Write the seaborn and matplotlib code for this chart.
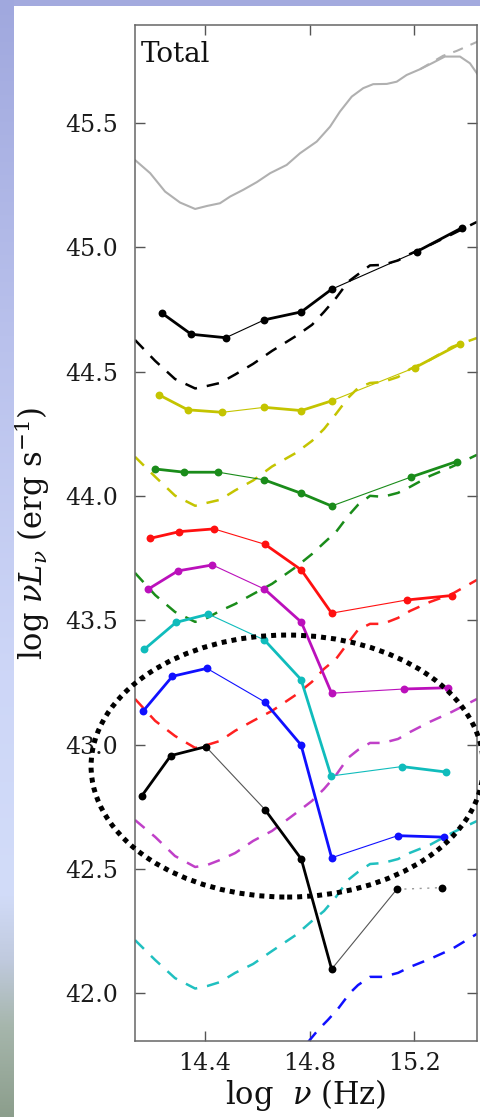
import matplotlib
matplotlib.use("Agg")
import numpy as np
import matplotlib.pyplot as plt
import seaborn as sns
from matplotlib.patches import Ellipse

# ---------------- data: log nu (Hz) vs log nuL_nu (erg/s) ----------------
# composite "Total" spectrum
total_x = [14.132, 14.190, 14.247, 14.304, 14.362, 14.407, 14.457, 14.496, 14.546,
           14.598, 14.649, 14.712, 14.763, 14.827, 14.878, 14.916, 14.961, 15.005,
           15.043, 15.095, 15.133, 15.171, 15.222, 15.273, 15.317, 15.375, 15.413, 15.444]
total_y = [45.352, 45.299, 45.225, 45.181, 45.155, 45.167, 45.178, 45.205, 45.232,
           45.263, 45.299, 45.332, 45.379, 45.426, 45.486, 45.547, 45.607, 45.641,
           45.657, 45.658, 45.667, 45.694, 45.717, 45.744, 45.768, 45.768, 45.741, 45.694]
total_model_x = [15.222, 15.310, 15.363, 15.444]
total_model_y = [45.717, 45.771, 45.791, 45.829]

# model curves (dashed), sampled on a common frequency grid
model_x = [14.132, 14.209, 14.285, 14.362, 14.408, 14.457, 14.515, 14.584, 14.656,
           14.748, 14.809, 14.855, 14.901, 14.947, 14.985, 15.031, 15.080, 15.138,
           15.184, 15.260, 15.344, 15.440]
model_black = [44.628, 44.544, 44.471, 44.433, 44.443, 44.455, 44.489, 44.532, 44.584,
               44.644, 44.689, 44.741, 44.797, 44.862, 44.892, 44.928, 44.930, 44.948,
               44.974, 45.010, 45.053, 45.103]
model_yellow = [44.158, 44.078, 44.002, 43.961, 43.973, 43.985, 44.023, 44.063, 44.119,
                44.174, 44.222, 44.270, 44.331, 44.395, 44.435, 44.455, 44.459, 44.479,
                44.511, 44.548, 44.600, 44.636]
model_green = [43.691, 43.602, 43.534, 43.494, 43.510, 43.538, 43.566, 43.606, 43.647,
               43.715, 43.767, 43.812, 43.856, 43.920, 43.965, 44.001, 43.997, 44.013,
               44.037, 44.081, 44.118, 44.166]
model_red = [43.184, 43.096, 43.035, 42.987, 42.999, 43.015, 43.056, 43.096, 43.136,
             43.201, 43.253, 43.305, 43.345, 43.410, 43.462, 43.486, 43.486, 43.510,
             43.538, 43.574, 43.606, 43.663]
model_magenta = [42.697, 42.629, 42.552, 42.508, 42.516, 42.536, 42.564, 42.613, 42.653,
                 42.725, 42.774, 42.822, 42.878, 42.947, 42.979, 43.007, 43.007, 43.023,
                 43.051, 43.092, 43.132, 43.184]
model_cyan = [42.214, 42.134, 42.061, 42.019, 42.029, 42.045, 42.082, 42.118, 42.170,
              42.235, 42.291, 42.331, 42.388, 42.456, 42.488, 42.520, 42.524, 42.540,
              42.565, 42.597, 42.645, 42.693]
model_blue_x = [14.794, 14.832, 14.870, 14.908, 14.954, 14.985, 15.031, 15.080,
                15.138, 15.184, 15.260, 15.344, 15.440]
model_blue = [41.804, 41.852, 41.893, 41.937, 42.001, 42.033, 42.066, 42.066,
              42.082, 42.106, 42.138, 42.178, 42.239]

# photometric SEDs (points)
black_hi_x = [14.235, 14.347, 14.479, 14.627, 14.768, 14.884, 15.209, 15.384]
black_hi_y = [44.736, 44.651, 44.637, 44.709, 44.741, 44.832, 44.983, 45.080]
yellow_x = [14.224, 14.334, 14.466, 14.627, 14.768, 14.884, 15.203, 15.375]
yellow_y = [44.407, 44.347, 44.337, 44.357, 44.344, 44.383, 44.517, 44.612]
green_x = [14.209, 14.321, 14.451, 14.627, 14.768, 14.884, 15.186, 15.362]
green_y = [44.109, 44.096, 44.096, 44.065, 44.011, 43.960, 44.076, 44.139]
red_x = [14.190, 14.302, 14.434, 14.629, 14.768, 14.884, 15.171, 15.343]
red_y = [43.830, 43.857, 43.868, 43.806, 43.703, 43.529, 43.582, 43.600]
magenta_x = [14.183, 14.296, 14.428, 14.627, 14.768, 14.884, 15.161, 15.330]
magenta_y = [43.626, 43.699, 43.723, 43.626, 43.493, 43.207, 43.224, 43.229]
cyan_x = [14.168, 14.289, 14.413, 14.627, 14.767, 14.882, 15.153, 15.322]
cyan_y = [43.384, 43.492, 43.525, 43.421, 43.262, 42.874, 42.912, 42.890]
blue_x = [14.163, 14.275, 14.407, 14.628, 14.767, 14.884, 15.137, 15.314]
blue_y = [43.135, 43.275, 43.307, 43.172, 42.999, 42.545, 42.634, 42.628]
black_lo_x = [14.158, 14.269, 14.403, 14.629, 14.768, 14.884, 15.133, 15.305]
black_lo_y = [42.794, 42.956, 42.992, 42.739, 42.540, 42.097, 42.418, 42.425]

x_ticks = [14.4, 14.8, 15.2]
y_ticks = [42.0, 42.5, 43.0, 43.5, 44.0, 44.5, 45.0, 45.5]

# highlighted region (dotted ellipse)
highlight_center = (14.714, 42.914)
highlight_size = (1.50, 1.054)

# ---------------- style ----------------
sns.set_theme(style="white")
plt.rcParams["font.family"] = ["DejaVu Serif"]
plt.rcParams["mathtext.fontset"] = "dejavuserif"
plt.rcParams["lines.dashed_pattern"] = [5.0, 4.0]

W, H = 481, 1117
fig = plt.figure(figsize=(W / 100, H / 100), dpi=100, facecolor="white")

# slide-like background strips
strip = fig.add_axes([0, 0, 14 / W, 1])
stops = np.array([0.0, 0.3, 0.6, 0.8, 0.86, 0.92, 1.0])
cols = np.array([[160, 168, 222], [185, 193, 236], [205, 214, 247], [210, 220, 249],
                 [192, 202, 222], [166, 182, 172], [140, 158, 140]]) / 255.0
t = np.linspace(0, 1, 400)
grad = np.stack([np.interp(t, stops, cols[:, k]) for k in range(3)], axis=-1)
strip.imshow(grad[:, None, :], aspect="auto", extent=[0, 1, 1, 0])
strip.set_axis_off()
top = fig.add_axes([14 / W, 1 - 6 / H, 1 - 14 / W, 6 / H])
top.set_facecolor((163 / 255, 170 / 255, 222 / 255))
top.set_xticks([]); top.set_yticks([])
for s in top.spines.values():
    s.set_visible(False)

ax = fig.add_axes([135 / W, 1 - 1041 / H, (477 - 135) / W, (1041 - 25) / H])
ax.set_facecolor("white")

# composite spectrum
sns.lineplot(x=total_x, y=total_y, ax=ax, color="#b0b0b0", lw=1.5,
             sort=False, estimator=None)
sns.lineplot(x=total_model_x, y=total_model_y, ax=ax, color="#b0b0b0", lw=1.5,
             linestyle="--", sort=False, estimator=None)

# dashed model curves
for yy, c in [(model_black, "black"), (model_yellow, "#c4c400"), (model_green, "#1a8c1a"),
              (model_red, "#ff2020"), (model_magenta, "#c040c8"), (model_cyan, "#20c0c0")]:
    sns.lineplot(x=model_x, y=yy, ax=ax, color=c, lw=1.8, linestyle="--",
                 sort=False, estimator=None)
sns.lineplot(x=model_blue_x, y=model_blue, ax=ax, color="#1010ff", lw=1.8,
             linestyle="--", sort=False, estimator=None)

# photometric SEDs: thick within a band set, thin links between sets
groups = [(0, 3), (3, 6), (6, 8)]
links = [(2, 4), (5, 7)]


def draw_sed(x, y, color, link_color=None, last_dotted=False):
    link_color = link_color or color
    for gi, (a, b) in enumerate(groups):
        if last_dotted and gi == len(groups) - 1:
            ln = sns.lineplot(x=x[a:b], y=y[a:b], ax=ax, color="#9a9a9a", lw=1.0,
                              sort=False, estimator=None).lines[-1]
            ln.set_dashes([1.5, 4])
        else:
            sns.lineplot(x=x[a:b], y=y[a:b], ax=ax, color=color, lw=2.0,
                         sort=False, estimator=None)
    for a, b in links:
        sns.lineplot(x=x[a:b], y=y[a:b], ax=ax, color=link_color, lw=0.8,
                     sort=False, estimator=None)
    sns.scatterplot(x=x, y=y, ax=ax, color=color, s=32, linewidth=0, zorder=4)


draw_sed(black_hi_x, black_hi_y, "black")
draw_sed(yellow_x, yellow_y, "#c4c400")
draw_sed(green_x, green_y, "#1a8c1a")
draw_sed(red_x, red_y, "#ff1010")
draw_sed(magenta_x, magenta_y, "#bb10bb")
draw_sed(cyan_x, cyan_y, "#10bcbc")
draw_sed(blue_x, blue_y, "#1010ff")
draw_sed(black_lo_x, black_lo_y, "black", link_color="#555555", last_dotted=True)

# dotted highlight
ax.add_patch(Ellipse(highlight_center, highlight_size[0], highlight_size[1],
                     fill=False, ec="black", lw=3.6, ls=(0, (1, 1)),
                     clip_on=False, zorder=6))

# ---------------- axes ----------------
ax.set_xlim(14.132, 15.440)
ax.set_ylim(41.808, 45.895)
ax.set_xticks(x_ticks)
ax.set_xticklabels([f"{v:.1f}" for v in x_ticks])
ax.set_yticks(y_ticks)
ax.set_yticklabels([f"{v:.1f}" for v in y_ticks])
ax.tick_params(direction="in", length=7, width=1.0, color="#555555",
               top=True, right=True, bottom=True, left=True,
               labelsize=17, labelcolor="#1a1a1a")
ax.tick_params(axis="y", pad=12)
ax.tick_params(axis="x", pad=8)
for s in ax.spines.values():
    s.set_color("#666666")
    s.set_linewidth(1.1)

ax.set_xlabel(r"log  $\nu$ (Hz)", fontsize=22, color="#111111")
ax.set_ylabel(r"log $\nu L_\nu$ (erg s$^{-1}$)", fontsize=22, color="#111111")
ax.xaxis.set_label_coords(0.5, -0.035)
ax.yaxis.set_label_coords(-0.243, 0.5)

ax.text(0.018, 0.9636, "Total", transform=ax.transAxes, fontsize=20,
        color="#111111", ha="left", va="baseline")

fig.savefig("out.png", dpi=100, facecolor=fig.get_facecolor())
